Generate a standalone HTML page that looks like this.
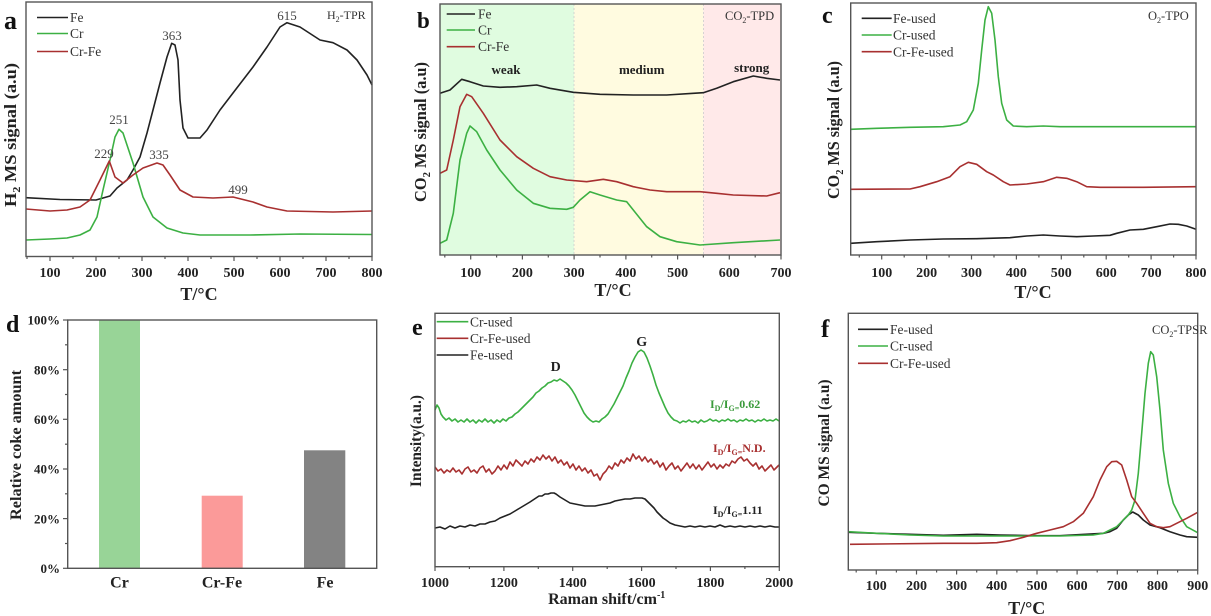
<!DOCTYPE html>
<html><head><meta charset="utf-8"><style>
html,body{margin:0;padding:0;background:#fff;}
svg{display:block;}
text{font-family:"Liberation Serif",serif;}
.tk{font-size:14px;font-weight:bold;fill:#222;text-anchor:middle;}
.ttl{font-weight:bold;fill:#222;text-anchor:middle;}
.lg{font-size:13.5px;fill:#333;}
.an{font-size:13px;fill:#444;text-anchor:middle;}
.pl{font-weight:bold;fill:#111;}
.fr{fill:none;stroke:#555;stroke-width:1.4;}
.tkl{stroke:#555;stroke-width:1.2;}
.c{fill:none;stroke-width:1.6;stroke-linejoin:round;}
.k{stroke:#222;}
.g{stroke:#3cb043;}
.r{stroke:#a83030;}
</style></head><body>
<svg width="1211" height="616" viewBox="0 0 1211 616" xmlns="http://www.w3.org/2000/svg">
<rect width="1211" height="616" fill="#fff"/>

<!-- ================= Panel a ================= -->
<text class="pl" x="4" y="29" font-size="26">a</text>
<text class="ttl" font-size="17" transform="translate(16,135) rotate(-90)" textLength="144" lengthAdjust="spacingAndGlyphs">H<tspan font-size="11" dy="4">2</tspan><tspan dy="-4"> MS signal (a.u)</tspan></text>
<polyline class="c k" points="26,197.7 60,199.5 96,200 110,196 117,188 127,180 133,170 140,157 147,133 153,110 160,83 167,57 171.7,43.3 175,45 178,60 180,100 183,128 188,138 200,138 207,130 220,110 233,93 253,67 267,47 280,27 287,22.7 300,27 320,40 333,42.7 347,50 357,60 367,75 372,85"/>
<polyline class="c g" points="26,240 50,239 67,238 80,235 90,230 97,217 103,190 110,160 115,137 119,129.3 123,133 133,163 143,197 153,217 167,228 183,233 200,235 250,235 300,234 372,234.5"/>
<polyline class="c r" points="26,209 50,211 67,210 80,207 90,200 100,180 109.3,161 115,177 123,183 133,175 143,168 157,163 163,165 170,175 180,190 193,197 213,198 233,197 253,202 267,207 287,211 333,212 372,211"/>
<rect class="fr" x="26" y="2" width="346" height="254.5"/>
<g class="tkl">
<line x1="50" y1="256.5" x2="50" y2="261"/><line x1="96" y1="256.5" x2="96" y2="261"/><line x1="142" y1="256.5" x2="142" y2="261"/><line x1="188" y1="256.5" x2="188" y2="261"/><line x1="234" y1="256.5" x2="234" y2="261"/><line x1="280" y1="256.5" x2="280" y2="261"/><line x1="326" y1="256.5" x2="326" y2="261"/><line x1="372" y1="256.5" x2="372" y2="261"/>
<line x1="27" y1="256.5" x2="27" y2="259"/><line x1="73" y1="256.5" x2="73" y2="259"/><line x1="119" y1="256.5" x2="119" y2="259"/><line x1="165" y1="256.5" x2="165" y2="259"/><line x1="211" y1="256.5" x2="211" y2="259"/><line x1="257" y1="256.5" x2="257" y2="259"/><line x1="303" y1="256.5" x2="303" y2="259"/><line x1="349" y1="256.5" x2="349" y2="259"/>
</g>
<text class="tk" x="50" y="277">100</text><text class="tk" x="96" y="277">200</text><text class="tk" x="142" y="277">300</text><text class="tk" x="188" y="277">400</text><text class="tk" x="234" y="277">500</text><text class="tk" x="280" y="277">600</text><text class="tk" x="326" y="277">700</text><text class="tk" x="372" y="277">800</text>
<text class="ttl" x="199" y="300" font-size="18">T/°C</text>
<line x1="37" y1="17.5" x2="68" y2="17.5" stroke="#222" stroke-width="1.6"/><text class="lg" x="70" y="22">Fe</text>
<line x1="37" y1="33.5" x2="68" y2="33.5" stroke="#3cb043" stroke-width="1.6"/><text class="lg" x="70" y="38">Cr</text>
<line x1="37" y1="51.5" x2="68" y2="51.5" stroke="#a83030" stroke-width="1.6"/><text class="lg" x="70" y="56">Cr-Fe</text>
<text class="an" x="172" y="40">363</text><text class="an" x="287" y="20">615</text><text class="an" x="119" y="124">251</text><text class="an" x="104" y="158">229</text><text class="an" x="159" y="159">335</text><text class="an" x="238" y="194">499</text>
<text x="327" y="19" font-size="12" fill="#333">H<tspan font-size="8" dy="3">2</tspan><tspan dy="-3">-TPR</tspan></text>

<!-- ================= Panel b ================= -->
<rect x="440" y="4" width="134" height="251" fill="#e0fce0"/>
<rect x="574" y="4" width="129.4" height="251" fill="#fffbe0"/>
<rect x="703.4" y="4" width="77.6" height="251" fill="#ffe9e9"/>
<line x1="574" y1="4" x2="574" y2="255" stroke="#ccc" stroke-width="0.8" stroke-dasharray="2,2"/>
<line x1="703.4" y1="4" x2="703.4" y2="255" stroke="#ccc" stroke-width="0.8" stroke-dasharray="2,2"/>
<text class="pl" x="417" y="28" font-size="23">b</text>
<text class="ttl" font-size="17" transform="translate(426,132) rotate(-90)" textLength="140" lengthAdjust="spacingAndGlyphs">CO<tspan font-size="11" dy="4">2</tspan><tspan dy="-4"> MS signal (a.u)</tspan></text>
<polyline class="c k" points="440,93.3 450,90 461.7,79.3 470,81.7 483.3,86 500,87.3 516.7,86.7 536.7,85 550,88.3 573.3,92.3 600,94.3 633.3,95 666.7,95 693.3,93.3 703.3,92.7 716.7,88.3 733.3,81.7 753.3,76 766.7,78.3 780,80"/>
<polyline class="c r" points="440,173.3 446.7,170 453.3,140 460,106.7 466.7,94.3 471.7,96.7 483.3,113.3 500,140 516.7,156.7 533.3,168.3 550,176.7 566.7,180 586.7,181.7 603.3,179.3 616.7,181.7 633.3,186.7 650,190 666.7,191.7 700,191.7 716.7,193.3 733.3,195 766.7,196 780,192.7"/>
<polyline class="c g" points="440,243.3 446.7,240 453.3,213.3 460,160 466.7,133.3 470,126 476.7,131.7 486.7,150 500,170 516.7,190 533.3,203.3 550,208.3 566.7,209.3 573.3,207.3 580,200 590,191.7 600,195 616.7,200 626.7,201.7 633.3,210 646.7,226.7 660,236.7 676.7,241.7 700,245 733.3,242.7 780,240"/>
<rect class="fr" x="440" y="4" width="341" height="251"/>
<g class="tkl">
<line x1="470.7" y1="255" x2="470.7" y2="259.5"/><line x1="522.4" y1="255" x2="522.4" y2="259.5"/><line x1="574.1" y1="255" x2="574.1" y2="259.5"/><line x1="625.9" y1="255" x2="625.9" y2="259.5"/><line x1="677.6" y1="255" x2="677.6" y2="259.5"/><line x1="729.3" y1="255" x2="729.3" y2="259.5"/><line x1="781" y1="255" x2="781" y2="259.5"/>
<line x1="444.8" y1="255" x2="444.8" y2="257.5"/><line x1="496.6" y1="255" x2="496.6" y2="257.5"/><line x1="548.3" y1="255" x2="548.3" y2="257.5"/><line x1="600" y1="255" x2="600" y2="257.5"/><line x1="651.7" y1="255" x2="651.7" y2="257.5"/><line x1="703.4" y1="255" x2="703.4" y2="257.5"/><line x1="755.2" y1="255" x2="755.2" y2="257.5"/>
</g>
<text class="tk" x="470.7" y="277">100</text><text class="tk" x="522.4" y="277">200</text><text class="tk" x="574.1" y="277">300</text><text class="tk" x="625.9" y="277">400</text><text class="tk" x="677.6" y="277">500</text><text class="tk" x="729.3" y="277">600</text><text class="tk" x="781" y="277">700</text>
<text class="ttl" x="613" y="296" font-size="18">T/°C</text>
<line x1="446.7" y1="14" x2="475" y2="14" stroke="#222" stroke-width="1.6"/><text class="lg" x="478" y="18.5">Fe</text>
<line x1="446.7" y1="30" x2="475" y2="30" stroke="#3cb043" stroke-width="1.6"/><text class="lg" x="478" y="34.5">Cr</text>
<line x1="446.7" y1="46.7" x2="475" y2="46.7" stroke="#a83030" stroke-width="1.6"/><text class="lg" x="478" y="51">Cr-Fe</text>
<text x="506" y="74" font-size="13" font-weight="bold" fill="#222" text-anchor="middle">weak</text>
<text x="641.7" y="74" font-size="13" font-weight="bold" fill="#222" text-anchor="middle">medium</text>
<text x="751.7" y="72" font-size="13" font-weight="bold" fill="#222" text-anchor="middle">strong</text>
<text x="725" y="20" font-size="12.5" fill="#333">CO<tspan font-size="8" dy="3">2</tspan><tspan dy="-3">-TPD</tspan></text>

<!-- ================= Panel c ================= -->
<text class="pl" x="822" y="23" font-size="24">c</text>
<text class="ttl" font-size="17" transform="translate(839,130) rotate(-90)" textLength="138" lengthAdjust="spacingAndGlyphs">CO<tspan font-size="11" dy="4">2</tspan><tspan dy="-4"> MS signal (a.u)</tspan></text>
<polyline class="c g" points="850.7,129.3 876.7,128.3 910,127.3 943.3,126.7 960,125 966.7,121.7 973.3,110 978.3,83.3 981.7,50 985,20 988.3,6.7 991.7,13.3 995,40 998.3,76.7 1001.7,103.3 1006.7,120 1013.3,126 1026.7,126.7 1043.3,126 1060,126.7 1076.7,126.7 1143.3,126.7 1196,126.7"/>
<polyline class="c r" points="850.7,189.3 910,189 920,186.7 936.7,181.7 950,176.7 960,166.7 968.3,162.3 976.7,164.3 986.7,171.7 993.3,175 1003.3,181.7 1010,185 1026.7,184 1043.3,181.7 1056.7,177.3 1066.7,178.3 1076.7,181.7 1086.7,186.7 1100,187.3 1143.3,187.3 1196,186.7"/>
<polyline class="c k" points="850.7,243.3 876.7,241.7 910,240 943.3,239 976.7,238.7 1010,237.7 1026.7,236 1043.3,235 1060,236 1076.7,236.7 1093.3,236 1110,235.3 1116.7,233.3 1130,230 1143.3,229.3 1156.7,226.7 1170,224 1178.3,224.3 1186.7,226 1196,229.3"/>
<rect class="fr" x="850.7" y="3" width="345.3" height="252"/>
<g class="tkl">
<line x1="881.7" y1="255" x2="881.7" y2="259.5"/><line x1="926.6" y1="255" x2="926.6" y2="259.5"/><line x1="971.5" y1="255" x2="971.5" y2="259.5"/><line x1="1016.4" y1="255" x2="1016.4" y2="259.5"/><line x1="1061.3" y1="255" x2="1061.3" y2="259.5"/><line x1="1106.2" y1="255" x2="1106.2" y2="259.5"/><line x1="1151.1" y1="255" x2="1151.1" y2="259.5"/><line x1="1196" y1="255" x2="1196" y2="259.5"/>
<line x1="859.3" y1="255" x2="859.3" y2="257.5"/><line x1="904.2" y1="255" x2="904.2" y2="257.5"/><line x1="949.1" y1="255" x2="949.1" y2="257.5"/><line x1="994" y1="255" x2="994" y2="257.5"/><line x1="1038.9" y1="255" x2="1038.9" y2="257.5"/><line x1="1083.8" y1="255" x2="1083.8" y2="257.5"/><line x1="1128.7" y1="255" x2="1128.7" y2="257.5"/><line x1="1173.6" y1="255" x2="1173.6" y2="257.5"/>
</g>
<text class="tk" x="881.7" y="277">100</text><text class="tk" x="926.6" y="277">200</text><text class="tk" x="971.5" y="277">300</text><text class="tk" x="1016.4" y="277">400</text><text class="tk" x="1061.3" y="277">500</text><text class="tk" x="1106.2" y="277">600</text><text class="tk" x="1151.1" y="277">700</text><text class="tk" x="1196" y="277">800</text>
<text class="ttl" x="1033" y="298" font-size="18">T/°C</text>
<line x1="861.7" y1="18.3" x2="891.7" y2="18.3" stroke="#222" stroke-width="1.6"/><text class="lg" x="893" y="23">Fe-used</text>
<line x1="861.7" y1="35" x2="891.7" y2="35" stroke="#3cb043" stroke-width="1.6"/><text class="lg" x="893" y="39.5">Cr-used</text>
<line x1="861.7" y1="51.7" x2="891.7" y2="51.7" stroke="#a83030" stroke-width="1.6"/><text class="lg" x="893" y="56.5">Cr-Fe-used</text>
<text x="1148" y="20" font-size="12.5" fill="#333">O<tspan font-size="8" dy="3">2</tspan><tspan dy="-3">-TPO</tspan></text>

<!-- ================= Panel d ================= -->
<text class="pl" x="6" y="332" font-size="24">d</text>
<text class="ttl" font-size="16" transform="translate(21,445) rotate(-90)" textLength="150" lengthAdjust="spacingAndGlyphs">Relative coke amount</text>
<rect x="99" y="320" width="41" height="248.3" fill="#98d497"/>
<rect x="201.7" y="495.7" width="41" height="72.6" fill="#fb9a99"/>
<rect x="304" y="450.3" width="41.3" height="118" fill="#838383"/>
<rect class="fr" x="67.7" y="320" width="309" height="248.3"/>
<g class="tkl">
<line x1="63" y1="568.3" x2="67.7" y2="568.3"/><line x1="63" y1="518.6" x2="67.7" y2="518.6"/><line x1="63" y1="469" x2="67.7" y2="469"/><line x1="63" y1="419.3" x2="67.7" y2="419.3"/><line x1="63" y1="369.7" x2="67.7" y2="369.7"/><line x1="63" y1="320" x2="67.7" y2="320"/>
<line x1="65" y1="543.5" x2="67.7" y2="543.5"/><line x1="65" y1="493.8" x2="67.7" y2="493.8"/><line x1="65" y1="444.2" x2="67.7" y2="444.2"/><line x1="65" y1="394.5" x2="67.7" y2="394.5"/><line x1="65" y1="344.8" x2="67.7" y2="344.8"/>
</g>
<g font-size="13" font-weight="bold" fill="#222" text-anchor="end">
<text x="60" y="573">0%</text><text x="60" y="523.3">20%</text><text x="60" y="473.7">40%</text><text x="60" y="424">60%</text><text x="60" y="374.4">80%</text><text x="60" y="324.7">100%</text>
</g>
<g font-size="16" font-weight="bold" fill="#222" text-anchor="middle">
<text x="119.5" y="587.5">Cr</text><text x="222" y="587.5">Cr-Fe</text><text x="325" y="587.5">Fe</text>
</g>

<!-- ================= Panel e ================= -->
<text class="pl" x="412" y="335" font-size="24">e</text>
<text class="ttl" font-size="15.5" transform="translate(421,441) rotate(-90)" textLength="92" lengthAdjust="spacingAndGlyphs">Intensity(a.u.)</text>
<polyline class="c g" stroke-width="1.5" points="435,410 437,405 439,408 441,414 443,417 446,420 449,418 452,421 455,419 458,422 461,420 464,422 467,419 470,422 473,420 476,423 479,420 482,422 485,419 488,422 491,420 494,423 497,420 500,422 503,419 506,421 509,418 512,417 515,414 518,412 521,409 524,406 527,403 530,400 533,397 536,393 539,391 542,388 545,386 548,383 551,382 554,380 557,381 560,379 563,381 566,383 569,386 572,390 575,395 578,401 581,407 584,413 587,417 590,420 593,422 596,421 599,422 602,419 605,417 608,414 611,409 614,404 617,398 620,392 623,386 626,378 629,371 632,363 635,357 638,352 641,350 644,352 647,358 650,366 653,375 656,385 659,393 662,400 665,407 668,413 671,417 674,420 677,421 680,423 683,421 686,422 689,420 692,422 695,421 698,423 701,420 704,422 707,421 710,419 713,421 716,420 719,422 722,420 725,421 728,419 731,421 734,420 737,422 740,420 743,421 746,419 749,421 752,420 755,422 758,420 761,421 764,419 767,421 770,420 773,421 776,419 779,421"/>
<polyline class="c r" stroke-width="1.4" points="435,467 438,471 441,469 444,473 447,470 450,472 453,468 456,472 459,470 462,474 465,469 468,467 471,472 474,470 477,473 480,468 483,466 486,472 489,469 492,474 495,471 498,466 501,470 504,465 507,469 510,462 513,466 516,460 519,463 522,466 525,461 528,464 531,459 534,462 537,457 540,460 543,455 546,459 549,456 552,461 555,457 558,463 561,460 564,465 567,462 570,468 573,464 576,470 579,466 582,471 585,468 588,473 591,470 594,476 597,474 600,480 603,474 606,471 609,466 612,469 615,463 618,466 621,460 624,463 627,458 630,461 633,454 636,459 639,456 642,461 645,457 648,462 651,459 654,464 657,461 660,467 663,463 666,470 669,466 672,463 675,469 678,466 681,471 684,467 687,463 690,468 693,464 696,469 699,465 702,470 705,466 708,462 711,467 714,464 717,469 720,465 723,468 726,464 729,466 732,461 735,463 738,459 741,457 744,461 747,459 750,463 753,466 756,463 759,469 762,466 765,471 768,468 771,465 774,470 777,467 779,465"/>
<polyline class="c k" stroke-width="1.5" points="435,528 440,527 445,529 450,526 455,528 460,526 465,527 470,525 475,526 480,524 485,524 490,522 495,521 500,518 505,516 510,514 515,511 520,508 525,505 530,502 533,500 536,498 539,496 542,496 545,494 548,494 551,493 554,493 556,494 560,497 565,500 570,503 575,504 580,505 585,506 590,506 595,506 600,505 605,504 610,503 615,501 620,500 625,499 630,499 635,498 640,498 642,498 645,499 648,502 651,505 654,508 657,512 660,515 663,518 666,520 670,523 675,525 680,526 685,527 690,526 695,527 700,526 705,527 710,526 715,527 720,525 725,527 730,526 735,527 740,526 745,527 750,526 755,527 760,526 765,527 770,526 775,527 779,527"/>
<rect class="fr" x="435" y="313.3" width="344.3" height="253.4"/>
<g class="tkl">
<line x1="435" y1="566.7" x2="435" y2="571"/><line x1="503.9" y1="566.7" x2="503.9" y2="571"/><line x1="572.7" y1="566.7" x2="572.7" y2="571"/><line x1="641.6" y1="566.7" x2="641.6" y2="571"/><line x1="710.4" y1="566.7" x2="710.4" y2="571"/><line x1="779.3" y1="566.7" x2="779.3" y2="571"/>
<line x1="469.4" y1="566.7" x2="469.4" y2="569"/><line x1="538.3" y1="566.7" x2="538.3" y2="569"/><line x1="607.2" y1="566.7" x2="607.2" y2="569"/><line x1="676" y1="566.7" x2="676" y2="569"/><line x1="744.9" y1="566.7" x2="744.9" y2="569"/>
</g>
<text class="tk" x="435" y="587">1000</text><text class="tk" x="503.9" y="587">1200</text><text class="tk" x="572.7" y="587">1400</text><text class="tk" x="641.6" y="587">1600</text><text class="tk" x="710.4" y="587">1800</text><text class="tk" x="779.3" y="587">2000</text>
<text class="ttl" x="606.7" y="604" font-size="16">Raman shift/cm<tspan font-size="10" dy="-6">-1</tspan></text>
<line x1="436.7" y1="321.7" x2="468.3" y2="321.7" stroke="#3cb043" stroke-width="1.6"/><text class="lg" x="470" y="326.5">Cr-used</text>
<line x1="436.7" y1="338.3" x2="468.3" y2="338.3" stroke="#a83030" stroke-width="1.6"/><text class="lg" x="470" y="343">Cr-Fe-used</text>
<line x1="436.7" y1="355" x2="468.3" y2="355" stroke="#222" stroke-width="1.6"/><text class="lg" x="470" y="359.5">Fe-used</text>
<text x="555.7" y="371" font-size="14" font-weight="bold" fill="#222" text-anchor="middle">D</text>
<text x="641.7" y="346" font-size="14" font-weight="bold" fill="#222" text-anchor="middle">G</text>
<text x="710" y="408" font-size="12" font-weight="bold" fill="#3a9a3a">I<tspan font-size="8" dy="3">D</tspan><tspan dy="-3">/I</tspan><tspan font-size="8" dy="3">G=</tspan><tspan dy="-3">0.62</tspan></text>
<text x="713" y="452" font-size="12" font-weight="bold" fill="#a83030">I<tspan font-size="8" dy="3">D</tspan><tspan dy="-3">/I</tspan><tspan font-size="8" dy="3">G=</tspan><tspan dy="-3">N.D.</tspan></text>
<text x="713" y="514" font-size="12" font-weight="bold" fill="#222">I<tspan font-size="8" dy="3">D</tspan><tspan dy="-3">/I</tspan><tspan font-size="8" dy="3">G=</tspan><tspan dy="-3">1.11</tspan></text>

<!-- ================= Panel f ================= -->
<text class="pl" x="821" y="337" font-size="25">f</text>
<text class="ttl" font-size="16" transform="translate(829,443) rotate(-90)" textLength="127" lengthAdjust="spacingAndGlyphs">CO MS signal (a.u)</text>
<polyline class="c k" points="848.3,532.3 876.7,533.3 910,534.3 943.3,535.3 976.7,534.3 1000,535 1033.3,535.7 1060,535.7 1103.3,533.3 1110,531.7 1116.7,528.3 1123.3,520 1128.3,515 1132.7,512 1138.3,515 1143.3,520 1150,525 1160,527.7 1170,531.7 1180,535 1186.7,536.7 1197.7,537.3"/>
<polyline class="c g" points="848.3,531.7 876.7,533.3 910,535 943.3,536 1000,536 1060,536 1093.3,535 1103.3,533.3 1110,530 1116.7,526.7 1123.3,520 1128.3,515 1131.7,510 1135,500 1138.3,473.3 1141.7,433.3 1145,393.3 1148.3,363.3 1150.7,351.7 1153.3,355 1156.7,376.7 1160,410 1163.3,450 1168.3,483.3 1173.3,503.3 1180,516.7 1186.7,526.7 1197.7,532.7"/>
<polyline class="c r" points="850,544.3 943.3,543.3 976.7,543.3 996.7,542.7 1010,540.7 1023.3,537.3 1036.7,533.3 1050,530 1063.3,526.7 1073.3,521.7 1083.3,513.3 1093.3,496.7 1100,480 1106.7,466.7 1111.7,461.7 1116.7,461.3 1121.7,465 1126.7,480 1131.7,496.7 1136.7,503.3 1143.3,513.3 1150,523.3 1156.7,526.7 1163.3,527.7 1170,526.7 1176.7,523.3 1186.7,518.3 1197.7,512.3"/>
<rect class="fr" x="848.3" y="313.3" width="349.4" height="256.7"/>
<g class="tkl">
<line x1="876.3" y1="570" x2="876.3" y2="574.5"/><line x1="916.5" y1="570" x2="916.5" y2="574.5"/><line x1="956.6" y1="570" x2="956.6" y2="574.5"/><line x1="996.8" y1="570" x2="996.8" y2="574.5"/><line x1="1037" y1="570" x2="1037" y2="574.5"/><line x1="1077.1" y1="570" x2="1077.1" y2="574.5"/><line x1="1117.3" y1="570" x2="1117.3" y2="574.5"/><line x1="1157.5" y1="570" x2="1157.5" y2="574.5"/><line x1="1197.7" y1="570" x2="1197.7" y2="574.5"/>
<line x1="856.2" y1="570" x2="856.2" y2="572.5"/><line x1="896.4" y1="570" x2="896.4" y2="572.5"/><line x1="936.6" y1="570" x2="936.6" y2="572.5"/><line x1="976.7" y1="570" x2="976.7" y2="572.5"/><line x1="1016.9" y1="570" x2="1016.9" y2="572.5"/><line x1="1057" y1="570" x2="1057" y2="572.5"/><line x1="1097.2" y1="570" x2="1097.2" y2="572.5"/><line x1="1137.4" y1="570" x2="1137.4" y2="572.5"/><line x1="1177.6" y1="570" x2="1177.6" y2="572.5"/>
</g>
<text class="tk" x="876.3" y="590">100</text><text class="tk" x="916.5" y="590">200</text><text class="tk" x="956.6" y="590">300</text><text class="tk" x="996.8" y="590">400</text><text class="tk" x="1037" y="590">500</text><text class="tk" x="1077.1" y="590">600</text><text class="tk" x="1117.3" y="590">700</text><text class="tk" x="1157.5" y="590">800</text><text class="tk" x="1197.7" y="590">900</text>
<text class="ttl" x="1026.7" y="614" font-size="18">T/°C</text>
<line x1="858" y1="329.3" x2="888" y2="329.3" stroke="#222" stroke-width="1.6"/><text class="lg" x="890" y="334">Fe-used</text>
<line x1="858" y1="346" x2="888" y2="346" stroke="#3cb043" stroke-width="1.6"/><text class="lg" x="890" y="350.5">Cr-used</text>
<line x1="858" y1="363.3" x2="888" y2="363.3" stroke="#a83030" stroke-width="1.6"/><text class="lg" x="890" y="368">Cr-Fe-used</text>
<text x="1152" y="334" font-size="12.5" fill="#333">CO<tspan font-size="8" dy="3">2</tspan><tspan dy="-3">-TPSR</tspan></text>
</svg>
</body></html>
